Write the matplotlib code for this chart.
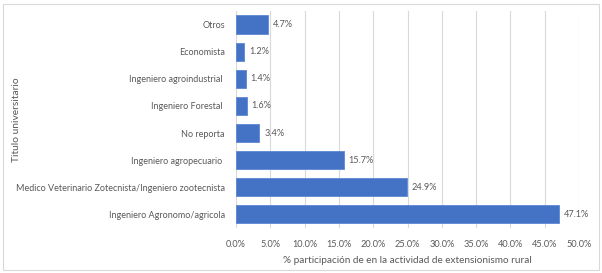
import matplotlib.pyplot as plt
import matplotlib.ticker as mticker
from matplotlib.patches import Rectangle

plt.rcParams['font.family'] = ['Lato', 'DejaVu Sans']

# categories listed bottom to top
titulos = ['Ingeniero Agronomo/agricola',
           'Medico Veterinario Zotecnista/Ingeniero zootecnista',
           'Ingeniero agropecuario ',
           'No reporta',
           'Ingeniero Forestal ',
           'Ingeniero agroindustrial ',
           'Economista',
           'Otros']
porcentaje = [47.1, 24.9, 15.7, 3.4, 1.6, 1.4, 1.2, 4.7]
xticks = [0, 5, 10, 15, 20, 25, 30, 35, 40, 45, 50]

gris = '#595959'
azul = '#4472C4'

fig = plt.figure(figsize=(6.02, 2.73), dpi=100)
ax = fig.add_axes([0.392, 0.165, 0.570, 0.795])

y = range(len(titulos))
ax.barh(y, porcentaje, height=0.67, color=azul, edgecolor='#5B87D3', linewidth=0.6, zorder=3)
for yi, v in zip(y, porcentaje):
    ax.text(v + 0.7, yi, f'{v:.1f}%', va='center', ha='left', fontsize=6.6, color=gris)

ax.set_yticks(list(y))
ax.set_yticklabels(titulos, fontsize=6.5, color=gris)
ax.set_xticks(xticks)
ax.xaxis.set_major_formatter(mticker.FuncFormatter(lambda v, p: f'{v:.1f}%'))
ax.tick_params(axis='x', labelsize=6.6, colors=gris, length=0, pad=9)
ax.tick_params(axis='y', length=0, pad=8)
ax.set_xlim(0, 50)
ax.set_ylim(-0.5, len(titulos) - 0.5)
ax.grid(axis='x', color='#D9D9D9', linewidth=0.8, zorder=0)
for s in ax.spines.values():
    s.set_visible(False)

ax.set_xlabel('% participación de en la actividad de extensionismo rural', fontsize=7.2, color=gris, labelpad=5)
fig.text(0.027, 0.56, 'Titulo universitario', rotation=90, va='center', ha='center', fontsize=7.4, color=gris)

fig.patches.append(Rectangle((0.005, 0.01), 0.99, 0.975, transform=fig.transFigure,
                             fill=False, edgecolor='#D9D9D9', linewidth=0.8))

fig.savefig('out.png', dpi=100)
